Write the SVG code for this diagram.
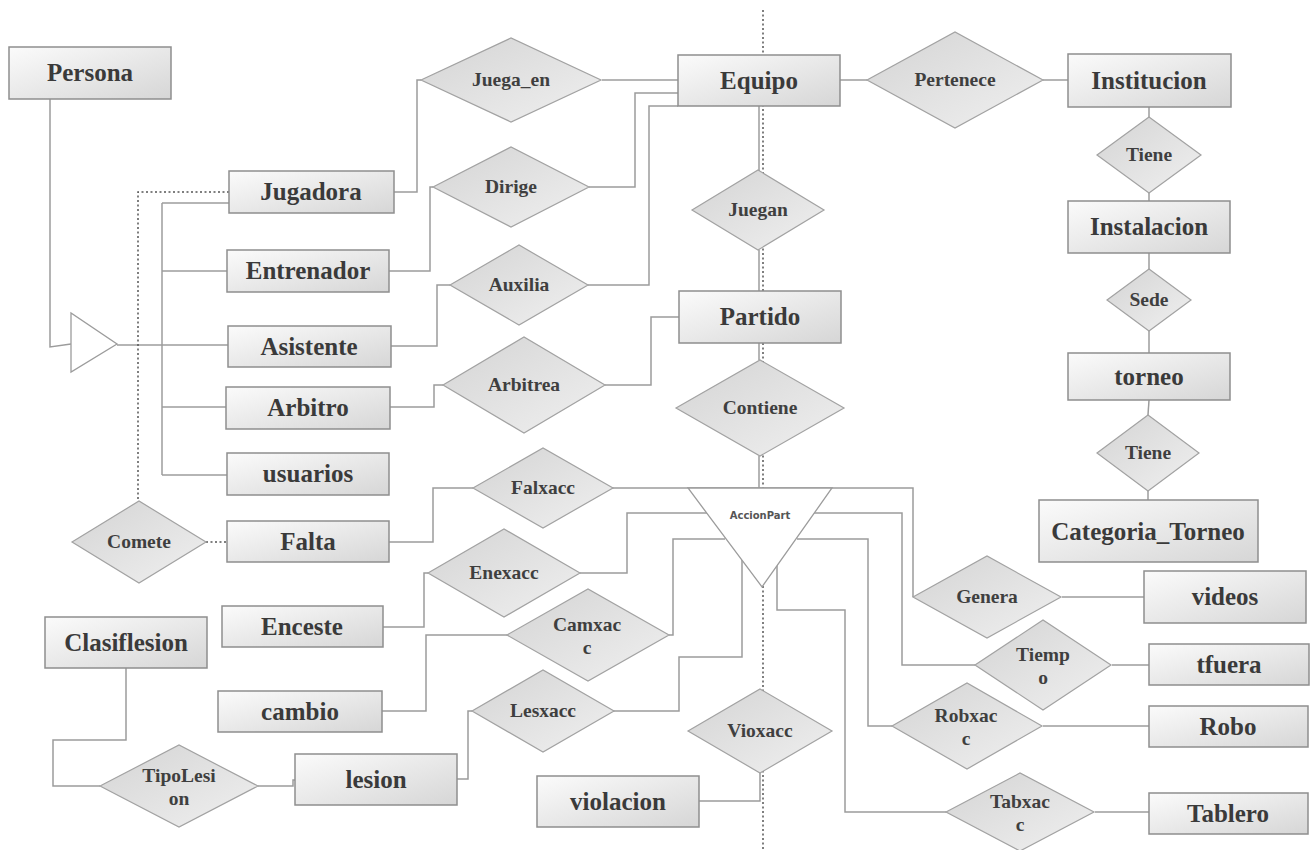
<svg xmlns="http://www.w3.org/2000/svg" width="1310" height="850" viewBox="0 0 1310 850">
<defs>
<linearGradient id="gRect" x1="0" y1="0" x2="1" y2="1">
<stop offset="0" stop-color="#fbfbfb"/><stop offset="1" stop-color="#d6d6d6"/>
</linearGradient>
<linearGradient id="gDia" x1="0" y1="0" x2="1" y2="1">
<stop offset="0" stop-color="#d4d4d4"/><stop offset="1" stop-color="#f0f0f0"/>
</linearGradient>
<style>
.ln{fill:none;stroke:#9c9c9c;stroke-width:1.5}
.dot{fill:none;stroke:#555;stroke-width:1.5;stroke-dasharray:2 2.5}
.ent{fill:url(#gRect);stroke:#8e8e8e;stroke-width:1.5}
.rel{fill:url(#gDia);stroke:#a2a2a2;stroke-width:1.2}
.tri{fill:#fff;stroke:#9c9c9c;stroke-width:1.3}
.te{font-family:"Liberation Serif","Times New Roman",serif;font-weight:bold;font-size:25px;fill:#3a3a3a;text-anchor:middle}
.tr{font-family:"Liberation Serif","Times New Roman",serif;font-weight:bold;font-size:19.5px;fill:#3f3f3f;text-anchor:middle}
.ts{font-family:"DejaVu Sans",sans-serif;font-weight:bold;font-size:10px;fill:#555;text-anchor:middle}
</style>
</defs>
<rect width="1310" height="850" fill="#fff"/>
<line class="dot" x1="763" y1="10" x2="763" y2="850"/>
<g id="connectors">
<polyline class="ln" points="50,99 50,347 71,344"/>
<polyline class="ln" points="117,345 228,345"/>
<polyline class="ln" points="162,203 162,475"/>
<polyline class="ln" points="162,203 229,203"/>
<polyline class="ln" points="162,271 227,271"/>
<polyline class="ln" points="162,407 226,407"/>
<polyline class="ln" points="162,475 227,475"/>
<polyline class="dot" points="229,192 138,192 138,501"/>
<polyline class="dot" points="206,542 227,542"/>
<polyline class="ln" points="394,192 417,192 417,80 421,80"/>
<polyline class="ln" points="602,80 678,80"/>
<polyline class="ln" points="389,271 430,271 430,187 433,187"/>
<polyline class="ln" points="589,187 635,187 635,93 678,93"/>
<polyline class="ln" points="391,346 437,346 437,285 450,285"/>
<polyline class="ln" points="588,285 649,285 649,106 678,106"/>
<polyline class="ln" points="390,407 434,407 434,385 443,385"/>
<polyline class="ln" points="605,385 651,385 651,317 679,317"/>
<polyline class="ln" points="759,106 759,171"/>
<polyline class="ln" points="759,250 759,291"/>
<polyline class="ln" points="759,343 759,360"/>
<polyline class="ln" points="759,456 759,488"/>
<polyline class="ln" points="389,542 433,542 433,488 473,488"/>
<polyline class="ln" points="612,488 913,488 913,597"/>
<polyline class="ln" points="383,627 424,627 424,573 428,573"/>
<polyline class="ln" points="580,573 627,573 627,513 710,513"/>
<polyline class="ln" points="810,513 902,513 902,665 975,665"/>
<polyline class="ln" points="382,711 426,711 426,635 507,635"/>
<polyline class="ln" points="669,635 673,635 673,539 725,539"/>
<polyline class="ln" points="797,539 868,539 868,726 892,726"/>
<polyline class="ln" points="457,779 468,779 468,711 472,711"/>
<polyline class="ln" points="613,711 679,711 679,657 742,657 742,556"/>
<polyline class="ln" points="777,562 777,610 845,610 845,812 946,812"/>
<polyline class="ln" points="760,773 760,801 699,801"/>
<polyline class="ln" points="1062,597 1144,597"/>
<polyline class="ln" points="1112,665 1149,665"/>
<polyline class="ln" points="1043,726 1149,726"/>
<polyline class="ln" points="1095,812 1149,812"/>
<polyline class="ln" points="840,80 867,80"/>
<polyline class="ln" points="1043,80 1068,80"/>
<polyline class="ln" points="1149,107 1149,117"/>
<polyline class="ln" points="1149,193 1149,201"/>
<polyline class="ln" points="1149,253 1149,269"/>
<polyline class="ln" points="1149,331 1149,353"/>
<polyline class="ln" points="1149,400 1148,415"/>
<polyline class="ln" points="1148,491 1148,500"/>
<polyline class="ln" points="126,668 126,740 53,740 53,786 100,786"/>
<polyline class="ln" points="258,786 293,786 293,780 295,780"/>
</g>
<g id="isa"><polygon class="tri" points="71,313 71,372 117,344"/></g>
<g id="AccionPart"><polygon class="tri" points="688,488 832,488 762,587"/><text class="ts" x="760" y="519">AccionPart</text></g>
<g id="Persona"><rect class="ent" x="9" y="47" width="162" height="52"/><text class="te" x="90" y="81">Persona</text></g>
<g id="Jugadora"><rect class="ent" x="229" y="171" width="165" height="42"/><text class="te" x="311" y="200">Jugadora</text></g>
<g id="Entrenador"><rect class="ent" x="227" y="250" width="162" height="42"/><text class="te" x="308" y="279">Entrenador</text></g>
<g id="Asistente"><rect class="ent" x="228" y="326" width="163" height="41"/><text class="te" x="309" y="355">Asistente</text></g>
<g id="Arbitro"><rect class="ent" x="226" y="387" width="164" height="42"/><text class="te" x="308" y="416">Arbitro</text></g>
<g id="usuarios"><rect class="ent" x="227" y="453" width="162" height="42"/><text class="te" x="308" y="482">usuarios</text></g>
<g id="Falta"><rect class="ent" x="227" y="521" width="162" height="41"/><text class="te" x="308" y="550">Falta</text></g>
<g id="Enceste"><rect class="ent" x="222" y="606" width="161" height="41"/><text class="te" x="302" y="635">Enceste</text></g>
<g id="Clasiflesion"><rect class="ent" x="45" y="617" width="162" height="51"/><text class="te" x="126" y="651">Clasiflesion</text></g>
<g id="cambio"><rect class="ent" x="218" y="691" width="164" height="41"/><text class="te" x="300" y="720">cambio</text></g>
<g id="lesion"><rect class="ent" x="295" y="754" width="162" height="51"/><text class="te" x="376" y="788">lesion</text></g>
<g id="violacion"><rect class="ent" x="537" y="776" width="162" height="51"/><text class="te" x="618" y="810">violacion</text></g>
<g id="Equipo"><rect class="ent" x="678" y="55" width="162" height="51"/><text class="te" x="759" y="89">Equipo</text></g>
<g id="Partido"><rect class="ent" x="679" y="291" width="162" height="52"/><text class="te" x="760" y="325">Partido</text></g>
<g id="Institucion"><rect class="ent" x="1068" y="54" width="163" height="53"/><text class="te" x="1149" y="89">Institucion</text></g>
<g id="Instalacion"><rect class="ent" x="1068" y="201" width="162" height="52"/><text class="te" x="1149" y="235">Instalacion</text></g>
<g id="torneo"><rect class="ent" x="1068" y="353" width="162" height="47"/><text class="te" x="1149" y="385">torneo</text></g>
<g id="Categoria_Torneo"><rect class="ent" x="1039" y="500" width="219" height="62"/><text class="te" x="1148" y="540">Categoria_Torneo</text></g>
<g id="videos"><rect class="ent" x="1144" y="571" width="162" height="52"/><text class="te" x="1225" y="605">videos</text></g>
<g id="tfuera"><rect class="ent" x="1149" y="644" width="160" height="41"/><text class="te" x="1229" y="673">tfuera</text></g>
<g id="Robo"><rect class="ent" x="1149" y="706" width="159" height="41"/><text class="te" x="1228" y="735">Robo</text></g>
<g id="Tablero"><rect class="ent" x="1149" y="793" width="159" height="41"/><text class="te" x="1228" y="822">Tablero</text></g>
<g id="Juega_en"><polygon class="rel" points="421,80 511,38 601,80 511,122"/><text class="tr" x="511" y="86">Juega_en</text></g>
<g id="Dirige"><polygon class="rel" points="433,187 511,147 589,187 511,227"/><text class="tr" x="511" y="193">Dirige</text></g>
<g id="Auxilia"><polygon class="rel" points="450,285 519,245 588,285 519,325"/><text class="tr" x="519" y="291">Auxilia</text></g>
<g id="Juegan"><polygon class="rel" points="692,210 758,170 824,210 758,250"/><text class="tr" x="758" y="216">Juegan</text></g>
<g id="Arbitrea"><polygon class="rel" points="443,385 524,337 605,385 524,433"/><text class="tr" x="524" y="391">Arbitrea</text></g>
<g id="Contiene"><polygon class="rel" points="676,408 760,360 844,408 760,456"/><text class="tr" x="760" y="414">Contiene</text></g>
<g id="Falxacc"><polygon class="rel" points="473,488 543,448 613,488 543,528"/><text class="tr" x="543" y="494">Falxacc</text></g>
<g id="Enexacc"><polygon class="rel" points="428,573 504,529 580,573 504,617"/><text class="tr" x="504" y="579">Enexacc</text></g>
<g id="Camxacc"><polygon class="rel" points="507,635 588,589 669,635 588,681"/><text class="tr" x="587" y="631">Camxac</text><text class="tr" x="587" y="654">c</text></g>
<g id="Lesxacc"><polygon class="rel" points="472,711 543,670 614,711 543,752"/><text class="tr" x="543" y="717">Lesxacc</text></g>
<g id="Vioxacc"><polygon class="rel" points="688,731 760,689 832,731 760,773"/><text class="tr" x="760" y="737">Vioxacc</text></g>
<g id="Comete"><polygon class="rel" points="72,542 139,501 206,542 139,583"/><text class="tr" x="139" y="548">Comete</text></g>
<g id="TipoLesion"><polygon class="rel" points="100,786 179,745 258,786 179,827"/><text class="tr" x="179" y="782">TipoLesi</text><text class="tr" x="179" y="805">on</text></g>
<g id="Pertenece"><polygon class="rel" points="867,80 955,32 1043,80 955,128"/><text class="tr" x="955" y="86">Pertenece</text></g>
<g id="Tiene1"><polygon class="rel" points="1097,155 1149,117 1201,155 1149,193"/><text class="tr" x="1149" y="161">Tiene</text></g>
<g id="Sede"><polygon class="rel" points="1107,300 1149,269 1191,300 1149,331"/><text class="tr" x="1149" y="306">Sede</text></g>
<g id="Tiene2"><polygon class="rel" points="1097,453 1148,415 1199,453 1148,491"/><text class="tr" x="1148" y="459">Tiene</text></g>
<g id="Genera"><polygon class="rel" points="913,597 987,556 1061,597 987,638"/><text class="tr" x="987" y="603">Genera</text></g>
<g id="Tiempo"><polygon class="rel" points="975,665 1043,620 1111,665 1043,710"/><text class="tr" x="1043" y="661">Tiemp</text><text class="tr" x="1043" y="684">o</text></g>
<g id="Robxacc"><polygon class="rel" points="892,726 967,683 1042,726 967,769"/><text class="tr" x="966" y="722">Robxac</text><text class="tr" x="966" y="745">c</text></g>
<g id="Tabxacc"><polygon class="rel" points="946,812 1020,773 1094,812 1020,851"/><text class="tr" x="1020" y="808">Tabxac</text><text class="tr" x="1020" y="831">c</text></g>
</svg>
